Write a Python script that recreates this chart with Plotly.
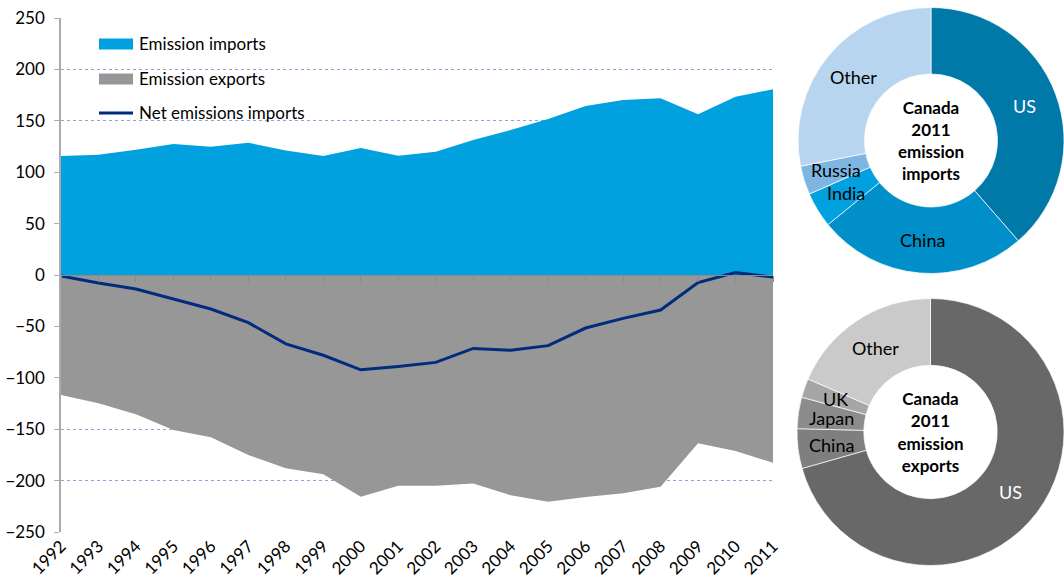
import math
import plotly.graph_objects as go

# ---- data -------------------------------------------------------------
years = list(range(1992, 2012))
year_labels = [str(y) for y in years]

emission_imports = [115.8, 117.0, 121.9, 127.4, 124.8, 128.7, 121.0, 115.8, 123.5, 116.0,
                    120.0, 131.3, 141.0, 151.8, 164.4, 170.2, 171.9, 156.3, 173.5, 180.6]
emission_exports = [-116.7, -124.8, -135.5, -150.8, -157.9, -175.1, -188.0, -193.9, -215.7, -205.0,
                    -205.0, -202.7, -214.3, -220.5, -216.0, -212.4, -206.0, -163.7, -171.2, -182.6]
net_imports = [-0.9, -7.8, -13.6, -23.4, -33.1, -46.4, -67.0, -78.1, -92.2, -89.0,
               -85.0, -71.4, -73.3, -68.7, -51.6, -42.2, -34.1, -7.4, 2.3, -2.0]

import_partners = ["US", "China", "India", "Russia", "Other"]
import_shares = [38.6, 25.5, 4.3, 3.5, 28.1]
export_partners = ["US", "China", "Japan", "UK", "Other"]
export_shares = [70.6, 4.8, 3.8, 2.3, 18.5]

series_names = ["Emission imports", "Emission exports", "Net emissions imports"]

# ---- styling ----------------------------------------------------------
W, H = 1064, 582
FONT = "Lato, Carlito, Calibri, sans-serif"
BLUE = "#00A1DE"
GREY = "#979797"
NAVY = "#002C7E"
import_colors = ["#0078A8", "#008FC8", "#00A1DE", "#7DB6E2", "#B8D5EF"]
export_colors = ["#686868", "#7F7F7F", "#8C8C8C", "#A6A6A6", "#CACACA"]
import_label_colors = ["white", "black", "black", "black", "black"]
export_label_colors = ["white", "black", "black", "black", "black"]

# plot-area geometry (pixels)
px_left, px_right, px_top, px_bottom = 61, 773, 18, 532
x_dom = [px_left / W, px_right / W]
y_dom = [1 - px_bottom / H, 1 - px_top / H]
y_zero = (y_dom[0] + y_dom[1]) / 2  # y = 0 sits midway in the symmetric range

# donut domains (pixels -> paper)
top_pie = dict(x=[798 / W, 1.0], y=[1 - 275 / H, 1 - 6 / H])
bot_pie = dict(x=[797 / W, 1.0], y=[1 - 567 / H, 1 - 297 / H])

fig = go.Figure()

fig.add_trace(go.Scatter(
    x=years, y=emission_imports, name=series_names[0], mode="none",
    fill="tozeroy", fillcolor=BLUE, showlegend=False))
fig.add_trace(go.Scatter(
    x=years, y=emission_exports, name=series_names[1], mode="none",
    fill="tozeroy", fillcolor=GREY, showlegend=False))
fig.add_trace(go.Scatter(
    x=years, y=net_imports, name=series_names[2], mode="lines",
    line=dict(color=NAVY, width=3), xaxis="x2", showlegend=False))


def donut(labels, values, colors, domain, title):
    return go.Pie(
        labels=labels, values=values, hole=0.5, sort=False,
        direction="clockwise", rotation=0, domain=domain,
        marker=dict(colors=colors, line=dict(color="white", width=0.7)),
        textinfo="none", showlegend=False, hoverinfo="label+percent",
        title=dict(text=title, position="middle center",
                   font=dict(family=FONT, size=17, color="black")))


fig.add_trace(donut(import_partners, import_shares, import_colors, top_pie,
                    "<b>Canada<br>2011<br>emission<br>imports</b>"))
fig.add_trace(donut(export_partners, export_shares, export_colors, bot_pie,
                    "<b>Canada<br>2011<br>emission<br>exports</b>"))


def slice_labels(labels, values, colors, domain):
    """Place each slice name at the middle of its ring segment."""
    x0, x1 = domain["x"][0] * W, domain["x"][1] * W
    y0, y1 = (1 - domain["y"][1]) * H, (1 - domain["y"][0]) * H
    r = min(x1 - x0, y1 - y0) / 2
    cx, cy = (x0 + x1) / 2, (y0 + y1) / 2
    rr = r * 0.75
    total = sum(values)
    start = 0.0
    notes = []
    for lab, val, col in zip(labels, values, colors):
        mid = (start + val / 2) / total * 2 * math.pi
        start += val
        px = cx + rr * math.sin(mid)
        py = cy - rr * math.cos(mid)
        notes.append(dict(x=px / W, y=1 - py / H, xref="paper", yref="paper",
                          xanchor="center", yanchor="middle",
                          text=lab, showarrow=False,
                          font=dict(family=FONT, size=18, color=col)))
    return notes


annotations = (slice_labels(import_partners, import_shares, import_label_colors, top_pie)
               + slice_labels(export_partners, export_shares, export_label_colors, bot_pie))

# legend key drawn in the upper-left of the area chart
shapes = []
key_x0, key_x1, key_text_x = 99, 133, 137
key_rows = [44, 79, 113]
for name, row, kind, color in zip(series_names, key_rows,
                                  ["box", "box", "line"], [BLUE, GREY, NAVY]):
    if kind == "box":
        shapes.append(dict(type="rect", xref="paper", yref="paper",
                           x0=key_x0 / W, x1=key_x1 / W,
                           y0=1 - (row + 5.5) / H, y1=1 - (row - 5.5) / H,
                           fillcolor=color, line=dict(width=0)))
    else:
        shapes.append(dict(type="line", xref="paper", yref="paper",
                           x0=key_x0 / W, x1=key_x1 / W,
                           y0=1 - row / H, y1=1 - row / H,
                           line=dict(color=color, width=3)))
    annotations.append(dict(x=key_text_x / W, y=1 - row / H, xref="paper", yref="paper",
                            xanchor="left", yanchor="middle", text=name, showarrow=False,
                            font=dict(family=FONT, size=17, color="black")))

fig.update_layout(
    template="none",
    width=W, height=H,
    margin=dict(l=0, r=0, t=0, b=0, pad=0),
    paper_bgcolor="white", plot_bgcolor="white",
    font=dict(family=FONT, size=17, color="black"),
    showlegend=False,
    xaxis=dict(domain=x_dom, range=[1992, 2011], tickvals=years, ticktext=year_labels,
               tickangle=-45, showgrid=False, zeroline=False, showline=False,
               ticks="", tickfont=dict(size=17), automargin=False),
    xaxis2=dict(overlaying="x", anchor="free", position=y_zero, range=[1992, 2011],
                tickvals=years, showticklabels=False, ticks="outside", ticklen=6,
                tickcolor="#8A8A8A", showline=True, linecolor="#8A8A8A", linewidth=1,
                showgrid=False, zeroline=False, automargin=False),
    yaxis=dict(domain=y_dom, range=[-250, 250], tick0=0, dtick=50,
               showgrid=True, gridcolor="#8FA2D2", griddash="dot", gridwidth=1,
               zeroline=False, showline=True, linecolor="#ABABAB", linewidth=1.5,
               ticks="outside", ticklen=5, tickcolor="#ABABAB",
               tickfont=dict(size=17), automargin=False, ticklabelstandoff=6),
    shapes=shapes,
    annotations=annotations,
)

fig.write_html("out.html")
